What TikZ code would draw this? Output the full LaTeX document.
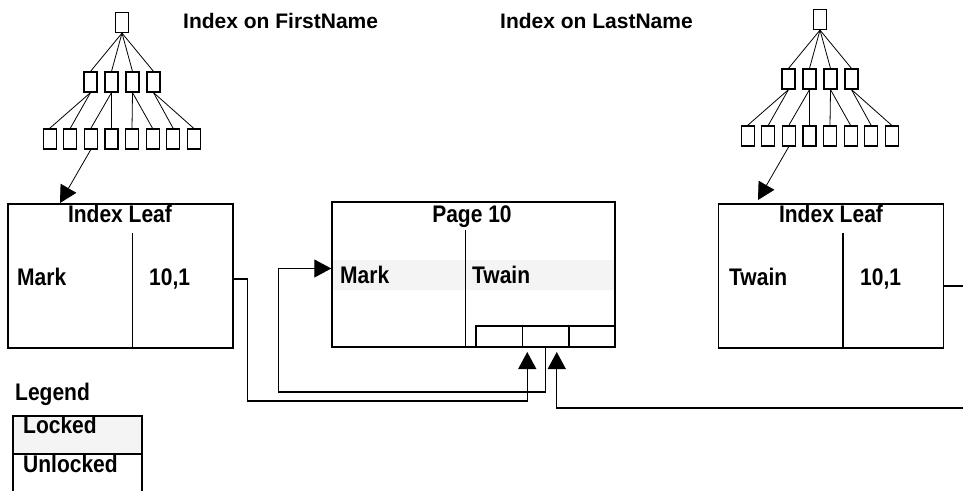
\documentclass[tikz,border=0pt]{standalone}
\usepackage{fontspec}
\setmainfont{Liberation Sans}
\newfontfamily\narrowfont{Liberation Sans}[FakeStretch=0.875]
\usetikzlibrary{arrows.meta, positioning}
\definecolor{lockgray}{HTML}{F4F4F4}

\begin{document}
\begin{tikzpicture}[
    x=1pt, y=-1pt,
    every node/.style={inner sep=0pt, font=\narrowfont\fontsize{24}{28}\selectfont\bfseries},
    txt/.style={anchor=base west},
    title/.style={anchor=base west, font=\fontsize{21}{25}\selectfont\bfseries},
    tbox/.style={draw, line width=1.2pt, minimum width=13pt, minimum height=20pt},
    tline/.style={line width=0.8pt},
    rec/.style={draw, line width=1.5pt, minimum width=225pt, minimum height=144pt},
    cell/.style={draw, line width=1.5pt, outer sep=0pt, minimum width=46.5pt, minimum height=21pt},
    legbox/.style={draw, line width=1.5pt, outer sep=0pt, minimum width=129pt},
    arrow/.style={line width=1.2pt, -{Triangle[length=17pt, width=18pt]}}
]
\clip (0,0) rectangle (963,490);

\foreach \tr/\dx/\dy in {fn/0/0, ln/698/-3} {
  \begin{scope}[shift={(\dx,\dy)}]
    \node[tbox] (\tr-root) at (122,22.5) {};
    \foreach \i in {1,...,4}
      \node[tbox] (\tr-m\i) at ({69.5+21*\i},82) {};
    \foreach \i in {1,...,8}
      \node[tbox] (\tr-b\i) at ({29+20.6*\i},139) {};
    \foreach \i in {1,...,4}
      \draw[tline] (\tr-root.south) -- (\tr-m\i.north);
    \foreach \m/\b in {1/1,1/2,2/3,2/4,3/5,3/6,4/7,4/8}
      \draw[tline] (\tr-m\m.south) -- (\tr-b\b.north);
    \coordinate (\tr-in) at (60,203);
    \draw[tline, -{Triangle[length=17pt, width=18pt]}] (\tr-b3.south) -- (\tr-in);
  \end{scope}
}

\node[title] (fn-title) at (183,28) {Index on FirstName};
\node[title] (ln-title) at (500,28) {Index on LastName};

\node[rec] (fnleaf) at (120.5,276) {};
\node[rec] (lnleaf) at (831,276) {};
\fill[lockgray] (333,260) rectangle (614,290);
\node[rec, minimum width=283pt, minimum height=145pt] (page) at (473.5,274.5) {};
\node[cell] (cell1) at (499,336.5) {};
\node[cell, right=0pt of cell1] (cell2) {};
\node[cell, right=0pt of cell2] (cell3) {};

\draw[line width=1.5pt] ([xshift=125pt]fnleaf.south west) -- ++(0,-116);
\draw[line width=1.5pt] ([xshift=125pt]lnleaf.south west) -- ++(0,-116);
\draw[line width=1.5pt] ([xshift=134pt]page.south west) -- ++(0,-118);

\node[anchor=base] (fn-head) at (120,222) {Index Leaf};
\node[txt] (fn-key) at (17,285) {Mark};
\node[txt] (fn-rid) at (149,285) {10,1};
\node[anchor=base] (page-head) at (472,222) {Page 10};
\node[txt] (first) at (340,283) {Mark};
\node[txt] (last) at (472,283) {Twain};
\node[anchor=base] (ln-head) at (831,222) {Index Leaf};
\node[txt] (ln-key) at (729,285) {Twain};
\node[txt] (ln-rid) at (860,285) {10,1};

\node[txt] (legend) at (15,400) {Legend};
\node[legbox, fill=lockgray, minimum height=38pt] (locked) at (77.5,435) {};
\node[legbox, minimum height=44pt, below=0pt of locked] (unlocked) {};
\node[txt] (locked-txt) at (23,433) {Locked};
\node[txt] (unlocked-txt) at (23,472) {Unlocked};

\coordinate (in1) at ([xshift=5pt, yshift=-5pt]cell2.south west);
\coordinate (in2) at ([xshift=-12pt, yshift=-5pt]cell2.south east);
\coordinate (pin) at ([yshift=6pt]page.west);

\draw[arrow] ([yshift=-3pt]fnleaf.east) -- ++(14,0) -- ++(0,122) -| (in1);
\draw[arrow] (cell2.south) -- ++(0,45) -| ([xshift=-53pt]pin) -- (pin);
\draw[arrow] ([yshift=-10pt]lnleaf.east) -- ++(40,0) -- ++(0,122) -| (in2);

\end{tikzpicture}
\end{document}
